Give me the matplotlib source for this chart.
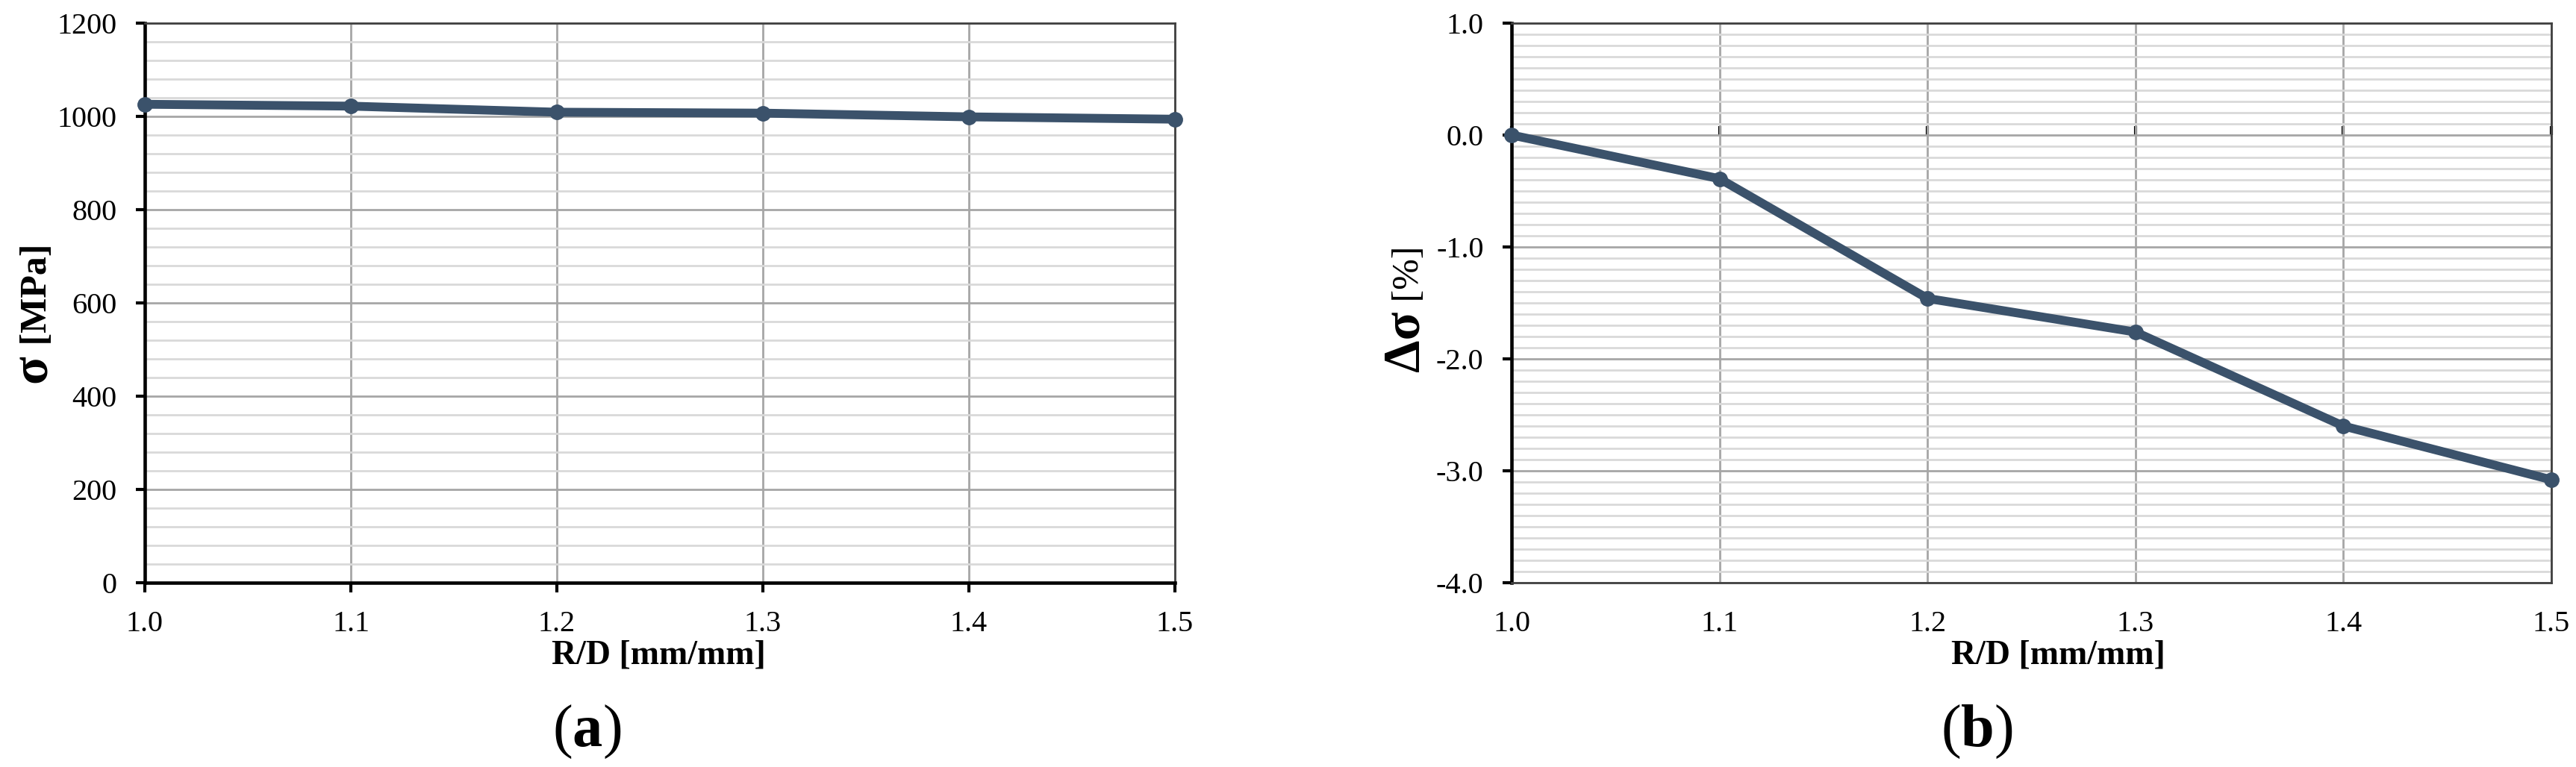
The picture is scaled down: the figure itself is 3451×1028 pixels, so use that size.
import matplotlib
matplotlib.use("Agg")
import matplotlib.pyplot as plt
from matplotlib.ticker import MultipleLocator, FormatStrFormatter

# ---- data ----
rd = [1.0, 1.1, 1.2, 1.3, 1.4, 1.5]
sigma = [1026, 1022, 1009, 1007, 999, 994]
delta_sigma = [0.0, -0.39, -1.46, -1.76, -2.60, -3.08]
x_ticks = [1.0, 1.1, 1.2, 1.3, 1.4, 1.5]

plt.rcParams['font.family'] = ['Liberation Serif', 'DejaVu Serif']
plt.rcParams['axes.unicode_minus'] = False
plt.rcParams['mathtext.fontset'] = 'custom'
plt.rcParams['mathtext.rm'] = 'Liberation Serif'
plt.rcParams['mathtext.bf'] = 'Liberation Serif:bold'

W, H = 3451, 1028
fig = plt.figure(figsize=(W / 100, H / 100), dpi=100)

LINE = '#3b526b'
MAJ = '#a6a6a6'
MIN = '#d9d9d9'
DARK = '#404040'
TICK_FS = 29
LAB_FS = 33


def px_axes(x0, x1, y0, y1):
    return fig.add_axes([x0 / W, 1 - y1 / H, (x1 - x0) / W, (y1 - y0) / H])


def style(ax, ymin, ymax, ymaj, ymin_step, fmt):
    ax.set_xlim(1.0, 1.5)
    ax.set_ylim(ymin, ymax)
    ax.set_xticks(x_ticks)
    ax.xaxis.set_major_formatter(FormatStrFormatter('%.1f'))
    ax.yaxis.set_major_locator(MultipleLocator(ymaj))
    ax.yaxis.set_minor_locator(MultipleLocator(ymin_step))
    ax.yaxis.set_major_formatter(FormatStrFormatter(fmt))
    ax.grid(True, which='major', axis='both', color=MAJ, lw=2.0, zorder=0)
    ax.grid(True, which='minor', axis='y', color=MIN, lw=2.0, zorder=0)
    ax.set_axisbelow(True)
    ax.tick_params(axis='y', which='major', direction='out', length=9, width=3,
                   color='black', labelsize=TICK_FS, pad=18)
    ax.tick_params(axis='y', which='minor', length=0)
    ax.tick_params(axis='x', which='major', labelsize=TICK_FS)
    ax.spines['left'].set_color('black')
    ax.spines['left'].set_linewidth(3.3)
    for s in ('top', 'right'):
        ax.spines[s].set_color(DARK)
        ax.spines[s].set_linewidth(2.0)
    for lab in ax.get_xticklabels() + ax.get_yticklabels():
        lab.set_fontfamily('Liberation Serif')


# ---- left panel ----
ax1 = px_axes(194, 1574, 31, 781)
style(ax1, 0, 1200, 200, 40, '%d')
ax1.spines['bottom'].set_color('black')
ax1.spines['bottom'].set_linewidth(3.3)
ax1.tick_params(axis='x', direction='out', length=9, width=3, color='black', pad=18)
ax1.plot(rd, sigma, color=LINE, lw=8.5, marker='o', ms=14, zorder=5, clip_on=False,
         solid_capstyle='round')
ax1.set_xlabel('R/D [mm/mm]', fontsize=LAB_FS, fontweight='bold')
ax1.xaxis.set_label_coords(0.499, -0.130)
ax1.xaxis.label.set_va('center')

# ---- right panel ----
ax2 = px_axes(2025, 3418, 31, 781)
style(ax2, -4.0, 1.0, 1.0, 0.1, '%.1f')
ax2.spines['bottom'].set_color(DARK)
ax2.spines['bottom'].set_linewidth(2.0)
ax2.tick_params(axis='x', length=0, pad=27)
sec = ax2.secondary_xaxis(0.8)
sec.set_xticks(x_ticks)
sec.spines['bottom'].set_color('black')
sec.spines['bottom'].set_linewidth(3.3)
sec.tick_params(axis='x', direction='out', length=9, width=3, color='black',
                labelbottom=False, labeltop=False)
ax2.plot(rd, delta_sigma, color=LINE, lw=8.5, marker='o', ms=14, zorder=5, clip_on=False,
         solid_capstyle='round')
ax2.set_xlabel('R/D [mm/mm]', fontsize=LAB_FS, fontweight='bold')
ax2.xaxis.set_label_coords(0.526, -0.130)
ax2.xaxis.label.set_va('center')

fig.canvas.draw()
renderer = fig.canvas.get_renderer()


def vlabel(x_base, y_bottom, parts):
    y = H - y_bottom
    for s, size, weight in parts:
        t = fig.text(x_base / W, y / H, s, rotation=90, rotation_mode='anchor',
                     ha='left', va='baseline', fontsize=size, fontweight=weight,
                     family='Liberation Serif')
        bb = t.get_window_extent(renderer=renderer)
        y = bb.y1


vlabel(62, 513, [('σ', 50, 'bold'), (' [MPa]', 36, 'bold')])
vlabel(1900, 498, [('Δσ', 50, 'bold'), (' [%]', 36, 'normal')])

fig.text(786 / W, 1 - 981 / H, r'($\mathbf{a}$)', fontsize=58, ha='center', va='center')
fig.text(2648 / W, 1 - 981 / H, r'($\mathbf{b}$)', fontsize=58, ha='center', va='center')

fig.savefig('out.png', dpi=100)
